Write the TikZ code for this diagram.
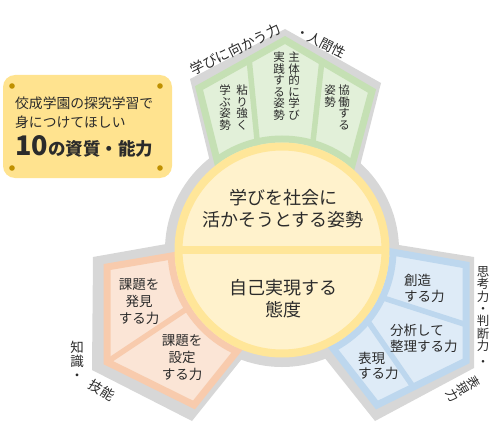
\documentclass[tikz,border=0pt]{standalone}
\usepackage{fontspec}
\setmainfont{Noto Sans CJK JP}
\usepackage{tikz}
\definecolor{gry}{HTML}{D7D7D7}
\definecolor{txt}{HTML}{2B2B2B}
\definecolor{grnb}{HTML}{C5E0B4}\definecolor{grnf}{HTML}{E2F0D9}
\definecolor{orgb}{HTML}{F8CBAD}\definecolor{orgf}{HTML}{FBE5D6}
\definecolor{blub}{HTML}{BDD7EE}\definecolor{bluf}{HTML}{DEEBF7}
\definecolor{ylwb}{HTML}{FFE699}\definecolor{ylwf}{HTML}{FFF2CC}
\definecolor{boxf}{HTML}{FFE38F}\definecolor{dotc}{HTML}{BF9000}

\begin{document}
\begin{tikzpicture}[x=1pt,y=-1pt,line join=miter,
  every node/.style={inner sep=0pt,text=txt},
  band/.style={line width=7pt},
  sep/.style={line width=5.5pt},
  vcol/.style={align=center,anchor=north,font=\fontsize{11.5}{11.5}\selectfont},
  mid/.style={align=center,font=\fontsize{18}{22}\selectfont},
  sub/.style={align=center,font=\fontsize{13.5}{17}\selectfont},
  subl/.style={align=left,anchor=west,font=\fontsize{13.5}{15.5}\selectfont},
  outer/.style={align=center,font=\fontsize{13.5}{14}\selectfont}]
\useasboundingbox (0,0) rectangle (500,425);
\coordinate (O) at (282,250);
% gray backing
\fill[gry] (O) circle (117pt);
\fill[gry] (212,170)--(190,79)--(285,29)--(381,83)--(359,170)--cycle;
\fill[gry] (172,243)--(93,257)--(92,370)--(192,421)--(245,355)--cycle;
\fill[gry] (380,242)--(474,257)--(474,368)--(375,421)--(320,352)--cycle;
% top petal
\draw[band,draw=grnb,fill=grnf] (222,180)--(199,88)--(285,40)--(372,91)--(348,180)--cycle;
\begin{scope}\clip (222,180)--(199,88)--(285,40)--(372,91)--(348,180)--cycle;
\draw[band,grnb] (O) circle (111pt);\end{scope}
\draw[sep,grnb] (249,58)--(259,160);
\draw[sep,grnb] (322,60)--(311,160);
% lower left petal
\draw[band,draw=orgb,fill=orgf] (195,252)--(107,267)--(107,362)--(194,405)--(246,340)--cycle;
\begin{scope}\clip (195,252)--(107,267)--(107,362)--(194,405)--(246,340)--cycle;
\draw[band,orgb] (O) circle (111pt);\end{scope}
\draw[sep,orgb] (107,362)--(200,300);
% lower right petal
\draw[band,draw=blub,fill=bluf] (375,249)--(466,265)--(466,361)--(377,405)--(325,338)--cycle;
\begin{scope}\clip (375,249)--(466,265)--(466,361)--(377,405)--(325,338)--cycle;
\draw[band,blub] (O) circle (111pt);\end{scope}
\draw[sep,blub] (371,294)--(467,325);
\draw[sep,blub] (358,307)--(414,388);
% centre circle
\draw[line width=8pt,draw=ylwb,fill=ylwf] (O) circle (103.5pt);
\draw[line width=8pt,ylwb] (179,250)--(385,250);
\node[mid] (gakubi) at (283,208.5) {学びを社会に\\活かそうとする姿勢};
\node[mid] (jiko) at (283,298.5) {自己実現する\\態度};
% top texts
\node[vcol] (neba) at (242,85) {粘\\り\\強\\く};
\node[vcol] (manabu) at (225,85) {学\\ぶ\\姿\\勢};
\node[vcol] (shutai) at (294,52) {主\\体\\的\\に\\学\\び};
\node[vcol] (jissen) at (279,52) {実\\践\\す\\る\\姿\\勢};
\node[vcol] (kyodo) at (344,85) {協\\働\\す\\る};
\node[vcol] (shisei) at (330,85) {姿\\勢};
% lower texts
\node[sub] (hakken) at (139,301.5) {課題を\\発見\\する力};
\node[sub] (settei) at (182,358) {課題を\\設定\\する力};
\node[subl] (sozo) at (404,288.5) {創造\\する力};
\node[subl] (bunseki) at (390,338.5) {分析して\\整理する力};
\node[subl] (hyogen) at (358,366) {表現\\する力};
% outer labels
\node[outer,font=\fontsize{14}{14}\selectfont,rotate=26] (mukau) at (235.5,49.5) {学びに向かう力};
\node[outer,rotate=-27] (ningen) at (321,42) {・人間性};
\node[outer] (chishiki) at (77,361) {知\\識\\・};
\node[outer,rotate=-32] (gino) at (102,390) {技能};
\node[outer,font=\fontsize{12.5}{12.3}\selectfont] (shiko) at (483,309) {思\\考\\力\\・\\判\\断\\力};
\node[outer,font=\fontsize{12.5}{12.3}\selectfont] (dot) at (483,363) {・};
\node[outer,font=\fontsize{12.5}{12.3}\selectfont,rotate=-60] (hyogenryoku) at (463,389) {表\\現\\力};
% title box
\node[draw=none,fill=boxf,rounded corners=12pt,minimum width=169pt,minimum height=103pt] (box) at (87.5,126.5) {};
\foreach \p in {(12,86),(160,86),(12,168),(160,168)} \fill[dotc] \p circle (2.8pt);
\node[anchor=base west,font=\fontsize{13.8}{14}\selectfont] (t1) at (15,108.2) {佼成学園の探究学習で};
\node[anchor=base west,font=\fontsize{13.8}{14}\selectfont] (t2) at (15,127.2) {身につけてほしい};
\node[anchor=base west,font=\bfseries\fontsize{17.5}{18}\selectfont] (t3) at (15,155) {{\fontsize{27}{27}\selectfont 10}の資質・能力};
\end{tikzpicture}
\end{document}
